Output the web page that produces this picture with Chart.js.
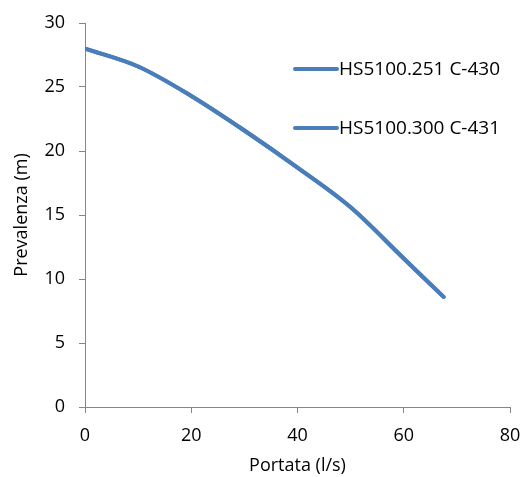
<!DOCTYPE html>
<html><head><meta charset="utf-8">
<script src="https://cdn.jsdelivr.net/npm/chart.js@4/dist/chart.umd.min.js"></script>
<style>html,body{margin:0;padding:0;background:#fff}#wrap{width:528px;height:477px;position:relative}</style>
</head><body><div id="wrap"><canvas id="c" width="528" height="477"></canvas></div>
<script>
const portata = [0, 10, 20, 30, 40, 50, 60, 67.5];
const serieA = [28, 26.6, 24.3, 21.6, 18.7, 15.6, 11.6, 8.6];
const serieB = [28, 26.6, 24.3, 21.6, 18.7, 15.6, 11.6, 8.6];
const seriesNames = ['HS5100.251 C-430', 'HS5100.300 C-431'];
const xTitle = 'Portata (l/s)';
const yTitle = 'Prevalenza (m)';
const FONT = 'Open Sans';
const BLUE = '#4A7EBB';
const AXIS = '#868686';

const legendPlugin = {
  id: 'insideLegend',
  afterDraw(chart) {
    const ctx = chart.ctx;
    ctx.save();
    const ys = [69, 128];
    chart.data.datasets.forEach((ds, i) => {
      ctx.strokeStyle = ds.borderColor;
      ctx.lineWidth = 4;
      ctx.lineCap = 'round';
      ctx.beginPath();
      ctx.moveTo(295, ys[i]);
      ctx.lineTo(337, ys[i]);
      ctx.stroke();
      ctx.fillStyle = '#000';
      ctx.font = '19px "' + FONT + '"';
      ctx.textBaseline = 'middle';
      ctx.fillText(ds.label, 339, ys[i] + 1);
    });
    ctx.restore();
  }
};

const mk = (arr) => portata.map((x, i) => ({x, y: arr[i]}));

new Chart(document.getElementById('c'), {
  type: 'line',
  data: {
    datasets: [
      {label: seriesNames[0], data: mk(serieA), borderColor: BLUE, borderWidth: 4, pointRadius: 0, cubicInterpolationMode: 'monotone', fill: false, borderCapStyle: 'round'},
      {label: seriesNames[1], data: mk(serieB), borderColor: BLUE, borderWidth: 4, pointRadius: 0, cubicInterpolationMode: 'monotone', fill: false, borderCapStyle: 'round'}
    ]
  },
  options: {
    responsive: false,
    animation: false,
    layout: {padding: {left: 0, right: 18, top: 23, bottom: 0}},
    plugins: {legend: {display: false}, tooltip: {enabled: false}},
    scales: {
      x: {
        type: 'linear', min: 0, max: 80,
        ticks: {stepSize: 20, color: '#000', font: {family: FONT, size: 18}, padding: 12, maxRotation: 0},
        grid: {drawOnChartArea: false, drawTicks: true, tickLength: 6, color: AXIS},
        border: {display: true, color: AXIS, width: 1},
        title: {display: true, text: xTitle, color: '#000', font: {family: FONT, size: 18}, padding: {top: 6, bottom: 0}},
        afterFit(s) { s.height = 70; s.paddingRight = 0; s.paddingLeft = 0; }
      },
      y: {
        type: 'linear', min: 0, max: 30,
        ticks: {stepSize: 5, color: '#000', font: {family: FONT, size: 18}, padding: 14},
        grid: {drawOnChartArea: false, drawTicks: true, tickLength: 6, color: AXIS},
        border: {display: true, color: AXIS, width: 1},
        title: {display: true, text: yTitle, color: '#000', font: {family: FONT, size: 18}, padding: {top: 11, bottom: 6}},
        afterFit(s) { s.width = 85; s.paddingTop = 0; s.paddingBottom = 0; }
      }
    }
  },
  plugins: [legendPlugin]
});
</script></body></html>
